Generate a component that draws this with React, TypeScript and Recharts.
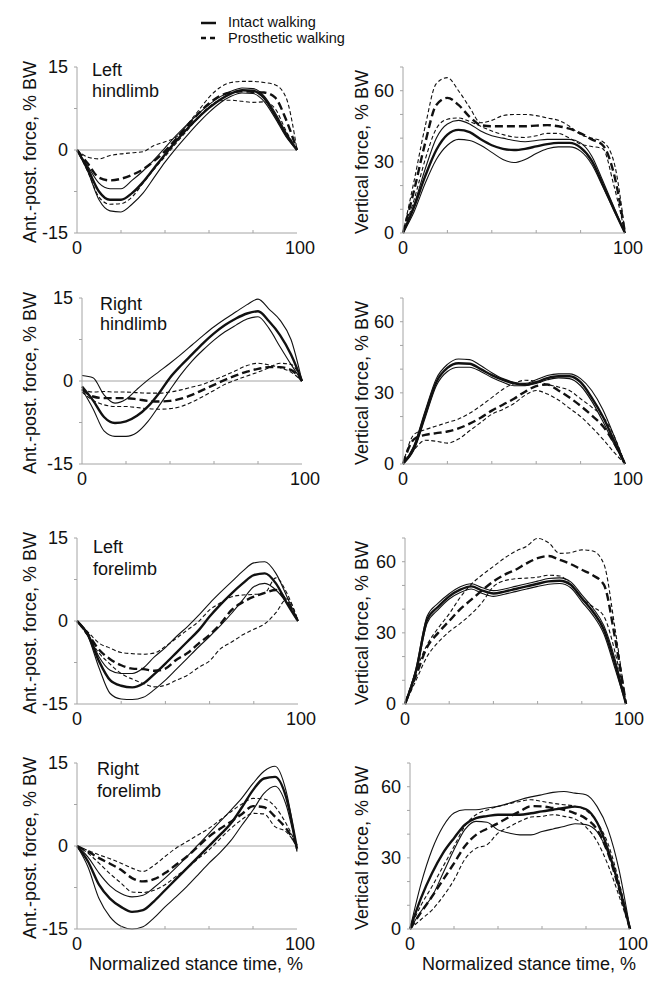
import React from "react";
import { LineChart, Line, XAxis, YAxis, ReferenceLine } from "recharts";

// Normalized stance time, %
const STANCE = [0, 5, 10, 15, 20, 25, 30, 35, 40, 45, 50, 55, 60, 65, 70, 75, 80, 85, 90, 95, 100];

// Left hindlimb, anterior-posterior force (% BW)
const LH_AP_INT = [0, -3.5, -7.5, -9, -9, -7.8, -5.8, -3.3, -0.8, 1.6, 3.8, 5.8, 7.6, 9.1, 10.2, 10.8, 10.7, 9.4, 6.3, 2.8, 0];
const LH_AP_INT_HI = [0, -3, -6, -7, -7, -5.5, -3.8, -1.8, 0.4, 2.6, 4.6, 6.5, 8.2, 9.6, 10.6, 11.2, 11.1, 9.8, 6.8, 3.2, 0];
const LH_AP_INT_LO = [0, -4, -9, -11, -11.2, -9.8, -7.8, -5, -2.2, 0.3, 2.6, 4.8, 6.8, 8.5, 9.7, 10.3, 10.2, 8.8, 5.8, 2.4, 0];
const LH_AP_PRO = [0, -2.5, -5, -5.5, -5.2, -4.5, -3.5, -2, -0.2, 2, 4.3, 6.5, 8.4, 9.8, 10.4, 10.6, 10.5, 10.4, 9.5, 5.5, 0];
const LH_AP_PRO_HI = [0, -1.3, -1.6, -1, -0.7, -0.5, -0.3, 0.8, 1.5, 2.3, 4.5, 7, 9.5, 11.3, 12.2, 12.4, 12.4, 12.2, 11.8, 9.5, 0];
const LH_AP_PRO_LO = [0, -4, -8.5, -9.8, -9.7, -8.5, -6, -3.5, -1.2, 1.2, 3.5, 5.8, 7.8, 8.9, 9, 8.8, 8.6, 8.7, 7.5, 3.5, 0];

// Left hindlimb, vertical force
const LH_V_INT = [0, 11, 24, 35, 41.5, 43.5, 42.5, 39.5, 37, 35.5, 35, 35.5, 36.5, 37.5, 38, 38, 36, 30.5, 20.5, 10, 0];
const LH_V_INT_HI = [0, 12, 27, 40, 46, 47.5, 46, 43, 41, 40, 39, 38.5, 39, 39.5, 39.5, 39.5, 38, 32.5, 22, 11, 0];
const LH_V_INT_LO = [0, 9, 21, 31, 37, 39.5, 39, 37, 34, 31, 29.7, 31, 33.5, 35.5, 36.3, 36.3, 34.5, 29, 19.5, 9.5, 0];
const LH_V_PRO = [0, 18, 38, 54, 57, 54, 49, 45.5, 45, 45, 45, 45, 45.3, 45.5, 45, 44, 42, 39.5, 37, 25, 0];
const LH_V_PRO_HI = [0, 22, 45, 63, 65.5, 60, 53, 46.5, 47.5, 49.5, 50, 50, 49.5, 48.5, 47.5, 45, 41.5, 40, 38.5, 30, 0];
const LH_V_PRO_LO = [0, 14, 31, 44, 48, 48.5, 47, 45, 43, 41.5, 40.5, 40.3, 41, 42, 42, 40, 37.5, 36.5, 35.5, 20, 0];

// Right hindlimb, anterior-posterior force
const RH_AP_INT = [-1, -3.5, -6.5, -7.6, -7.3, -6.3, -4.6, -2.2, 0.6, 2.8, 4.8, 6.8, 8.6, 10.1, 11.3, 12.2, 12.6, 10.8, 8.3, 4.8, 0];
const RH_AP_INT_HI = [1, 0.6, -2.5, -4, -3.3, -1.5, 0.2, 1.7, 3.2, 4.8, 6.5, 8.2, 9.8, 11.2, 12.5, 13.8, 14.8, 13, 11, 7.5, 0];
const RH_AP_INT_LO = [-1.5, -5, -9, -10, -10, -9.3, -7.3, -4.5, -1.6, 1.2, 3.6, 5.6, 7.4, 8.9, 10.1, 11.2, 11.6, 9.5, 6.2, 3, 0];
const RH_AP_PRO = [-1.5, -2.8, -3.1, -3.1, -3.1, -3.3, -3.6, -3.7, -3.6, -3.2, -2.5, -1.6, -0.7, 0.2, 1, 1.7, 2.2, 2.5, 2.5, 2, 0];
const RH_AP_PRO_HI = [-1.5, -2, -1.9, -2, -2, -2.1, -2.2, -2.2, -2, -1.6, -1.1, -0.6, 0.2, 1, 1.9, 2.8, 3.2, 2.9, 2.4, 1.6, 0];
const RH_AP_PRO_LO = [-2, -3.5, -4.3, -4.6, -4.6, -4.8, -5, -5.1, -5, -4.6, -3.8, -2.8, -1.7, -0.6, 0.2, 0.9, 1.6, 2.4, 3.2, 3, 0];

// Right hindlimb, vertical force
const RH_V_INT = [0, 7, 21, 34.5, 40.5, 42.5, 42.3, 40, 37.5, 35.5, 34, 33.4, 34.5, 36.2, 37, 37, 34.5, 28, 20, 10, 0];
const RH_V_INT_HI = [0, 8, 22.5, 36, 42, 44.3, 44, 41.5, 38.5, 36, 34.5, 34, 35.5, 37.3, 38, 38, 36, 31, 23, 12, 0];
const RH_V_INT_LO = [0, 6, 19.5, 33, 39, 40.8, 40.8, 39, 36.5, 34.5, 33, 33, 34, 35.5, 36.3, 36, 33, 26.5, 18, 8.5, 0];
const RH_V_PRO = [0, 10.5, 12.3, 13, 13.7, 15, 17, 19.5, 22.5, 25, 27.5, 30.5, 32.8, 33.5, 31, 28, 24.5, 20.5, 16, 9, 0];
const RH_V_PRO_HI = [0, 12.5, 14.5, 16, 17.5, 19, 21.4, 24.5, 28, 31.5, 34, 35.3, 35, 33.5, 32.5, 31, 27.5, 24, 20, 12, 0];
const RH_V_PRO_LO = [0, 6, 10, 9.6, 8.8, 10.5, 14, 17.5, 21, 23, 25.5, 29, 31, 29.5, 27, 23.5, 20, 15.5, 10.5, 5, 0];

// Left forelimb, anterior-posterior force
const LF_AP_INT = [0, -2.5, -7.3, -10.7, -11.7, -12, -11.3, -9.6, -7.7, -5.7, -3.7, -1.7, 0.8, 3, 5, 6.8, 8.3, 8.6, 6.8, 3.2, 0];
const LF_AP_INT_HI = [0, -2.3, -6.5, -8.9, -9.5, -9.5, -8.5, -6.5, -4.8, -2.8, -1, 1, 3.2, 5.2, 7.1, 9, 10.5, 10.7, 8.6, 4.4, 0];
const LF_AP_INT_LO = [0, -2.8, -8.5, -13.1, -14.1, -14.2, -13.8, -12.4, -10.7, -8.7, -6.7, -4.7, -2.8, -0.8, 1.4, 3.8, 6.2, 6.8, 5.6, 3.2, 0];
const LF_AP_PRO = [0, -2.4, -5.2, -6.9, -8, -8.6, -8.7, -9, -8.6, -7, -5.8, -4.1, -2.5, -0.5, 2, 3.4, 4.4, 5.1, 5.6, 3.5, 0];
const LF_AP_PRO_HI = [0, -2, -4, -4.9, -5.7, -5.9, -6, -5.8, -4.6, -3.1, -1.6, -0.1, 2, 3.3, 4.4, 4.7, 4.8, 5.1, 7.8, 5, 0];
const LF_AP_PRO_LO = [0, -2.8, -5.8, -7.8, -9.5, -10.5, -11.3, -11.9, -11.6, -10.7, -9.8, -8.4, -7.2, -5, -3.8, -2.5, -1.5, -0.5, 1.5, 4, 0];

// Left forelimb, vertical force
const LF_V_INT = [0, 14, 35.5, 41, 45.4, 48.2, 49.6, 47.8, 46.6, 47.4, 48.5, 49.6, 50.7, 51.7, 52, 50.3, 44.6, 39, 31.3, 17, 0];
const LF_V_INT_HI = [0, 15, 37, 42.5, 46.5, 49.4, 50.7, 49, 47.8, 48.5, 49.6, 50.7, 51.8, 52.9, 53.2, 51.5, 46, 40.5, 33, 19, 0];
const LF_V_INT_LO = [0, 13, 34, 39.8, 44.3, 47, 48.5, 46.6, 45.4, 46.3, 47.4, 48.5, 49.6, 50.5, 50.8, 49, 43.2, 37.5, 29.5, 15, 0];
const LF_V_PRO = [0, 12, 24, 30, 35, 40, 44, 48, 51.7, 54.5, 56.6, 59.3, 61.5, 62.4, 60.8, 59, 56.6, 54.3, 50.3, 28, 0];
const LF_V_PRO_HI = [0, 14, 25, 32, 38, 45, 50.5, 54.5, 58, 61.5, 64.4, 66.5, 69.8, 68, 63.5, 63.8, 65, 64.5, 59, 32, 0];
const LF_V_PRO_LO = [0, 10, 20, 26, 30.5, 34, 38, 43, 49.5, 52, 52.8, 53.1, 53.5, 54.3, 54, 50.3, 44.6, 41, 37, 22, 0];

// Right forelimb, anterior-posterior force
const RF_AP_INT = [0, -2.8, -7, -9.5, -11, -11.9, -11.6, -10, -8, -6, -4, -2, 0, 2, 4.1, 7, 10.1, 12.2, 12.5, 8.9, -0.5];
const RF_AP_INT_HI = [0, -2, -4.9, -7.2, -8.6, -9.2, -8.9, -7.5, -5.8, -3.9, -1.9, 0.2, 2.3, 4.4, 6.5, 8.7, 11.3, 13.5, 14.4, 10, -0.8];
const RF_AP_INT_LO = [0, -3.8, -9.5, -12.8, -14.5, -15, -14.6, -13, -11, -9.2, -7.3, -5.2, -3.1, -1.2, 1, 3.8, 6.5, 9.5, 10.8, 7.5, -1];
const RF_AP_PRO = [0, -1, -2.2, -3.2, -4.3, -5.8, -6.4, -6, -4.9, -3.4, -1.9, -0.1, 1.7, 3.1, 4.4, 5.8, 7.2, 7, 5.3, 3.2, 0];
const RF_AP_PRO_HI = [0, -0.8, -1.6, -2.3, -3.1, -4, -4.6, -3.5, -1.9, -0.4, 0.8, 2, 3.2, 4.7, 6.2, 7.6, 8.6, 8.5, 7.1, 4.1, 0];
const RF_AP_PRO_LO = [0, -1.3, -3.1, -5, -6.7, -8.3, -8.4, -8, -7, -5.5, -4, -2.3, -0.7, 1.3, 3.2, 4.8, 5.9, 5.8, 3.5, 2.6, 0];

// Right forelimb, vertical force
const RF_V_INT = [0, 13, 23.5, 32, 38.3, 44, 46.8, 47.6, 48.2, 48.2, 48.2, 48.8, 49.6, 50.3, 51, 51.6, 50.5, 45, 33.5, 18, 0];
const RF_V_INT_HI = [0, 19, 33.4, 43.2, 48.9, 50.3, 50.3, 51, 51.7, 53, 54.5, 55.7, 56.6, 57.6, 58, 57.3, 56.6, 51.7, 42, 25, 0];
const RF_V_INT_LO = [0, 7.5, 13.7, 23.5, 33.4, 42, 45.4, 45, 41.8, 40.5, 39.7, 39.7, 41.1, 42.2, 43.2, 44.4, 44, 41, 32, 18, 0];
const RF_V_PRO = [0, 7, 13.7, 20.7, 27.7, 35, 39.7, 42.3, 44.6, 47.2, 49.6, 51.8, 51.7, 51, 50.3, 48.8, 46.5, 42, 32, 17, 0];
const RF_V_PRO_HI = [0, 10, 17.9, 26.3, 34.8, 43.5, 48.2, 50.2, 51.7, 52.8, 53.8, 54.5, 53.8, 53, 52.4, 51.8, 50, 45, 36, 20, 0];
const RF_V_PRO_LO = [0, 4, 8, 13.7, 20.7, 29.5, 34, 35.5, 40.4, 43, 45.4, 47.2, 47.5, 48.2, 47.5, 46.4, 43, 37, 27, 14, 0];

const X_TICKS = [0, 20, 40, 60, 80, 100];
const AP_TICKS = [-15, -7.5, 0, 7.5, 15];
const AP_LABELS = [-15, 0, 15];
const V_TICKS = [0, 10, 20, 30, 40, 50, 60, 70];
const V_LABELS = [0, 30, 60];

const AXIS = "#a4a4a4";
const INK = "#111";
const FONT = "'Liberation Sans', Arial, Helvetica, sans-serif";
const PLOT_H = 166;
const Y_AXIS_W = 77;
const MARGIN = { top: 10, right: 24, bottom: 0, left: 0 };

const AP = { domain: [-15, 15], ticks: AP_TICKS, labels: AP_LABELS, title: "Ant.-post. force, % BW", titleX: 30 };
const VERT = { domain: [0, 70], ticks: V_TICKS, labels: V_LABELS, title: "Vertical force, % BW", titleX: 362 };

interface Panel {
    kind: "ap" | "vert";
    left: number;    // page x of plot area
    top: number;     // page y of plot area
    width: number;
    name?: [string, string];
    nameAt?: [number, number, number]; // dx, baseline 1, baseline 2
    series: number[][];
    xTitle?: boolean;
}

const PANELS: Panel[] = [
    { kind: "ap", left: 77, top: 67, width: 220, name: ["Left", "hindlimb"], nameAt: [15, 9, 30],
      series: [LH_AP_INT, LH_AP_INT_HI, LH_AP_INT_LO, LH_AP_PRO, LH_AP_PRO_HI, LH_AP_PRO_LO] },
    { kind: "vert", left: 403, top: 67, width: 222,
      series: [LH_V_INT, LH_V_INT_HI, LH_V_INT_LO, LH_V_PRO, LH_V_PRO_HI, LH_V_PRO_LO] },
    { kind: "ap", left: 82, top: 298, width: 220, name: ["Right", "hindlimb"], nameAt: [18, 12, 32],
      series: [RH_AP_INT, RH_AP_INT_HI, RH_AP_INT_LO, RH_AP_PRO, RH_AP_PRO_HI, RH_AP_PRO_LO] },
    { kind: "vert", left: 403, top: 298, width: 222,
      series: [RH_V_INT, RH_V_INT_HI, RH_V_INT_LO, RH_V_PRO, RH_V_PRO_HI, RH_V_PRO_LO] },
    { kind: "ap", left: 77, top: 538, width: 221, name: ["Left", "forelimb"], nameAt: [16, 15, 37],
      series: [LF_AP_INT, LF_AP_INT_HI, LF_AP_INT_LO, LF_AP_PRO, LF_AP_PRO_HI, LF_AP_PRO_LO] },
    { kind: "vert", left: 405, top: 538, width: 221,
      series: [LF_V_INT, LF_V_INT_HI, LF_V_INT_LO, LF_V_PRO, LF_V_PRO_HI, LF_V_PRO_LO] },
    { kind: "ap", left: 77, top: 763, width: 220, name: ["Right", "forelimb"], nameAt: [20, 12, 34], xTitle: true,
      series: [RF_AP_INT, RF_AP_INT_HI, RF_AP_INT_LO, RF_AP_PRO, RF_AP_PRO_HI, RF_AP_PRO_LO] },
    { kind: "vert", left: 410, top: 763, width: 220, xTitle: true,
      series: [RF_V_INT, RF_V_INT_HI, RF_V_INT_LO, RF_V_PRO, RF_V_PRO_HI, RF_V_PRO_LO] },
];

// thin SD lines first, means on top
const LINES = [
    { key: "intHi", width: 1.1 },
    { key: "intLo", width: 1.1 },
    { key: "proHi", width: 1.1, dash: "4 2.5" },
    { key: "proLo", width: 1.1, dash: "4 2.5" },
    { key: "pro", width: 2.4, dash: "8 4" },
    { key: "int", width: 2.4 },
];

function xTick(props: any) {
    const { x, y, payload } = props;
    const v = payload.value;
    return (
        <g>
            {v > 0 && v < 100 && <line x1={x} x2={x} y1={y} y2={y - 3} stroke={AXIS} />}
            {(v === 0 || v === 100) && (
                <text x={v === 100 ? x + 3 : x} y={y + 21} textAnchor="middle" fontSize={18} fill={INK} fontFamily={FONT}>
                    {v}
                </text>
            )}
        </g>
    );
}

const yTick = (labels: number[]) => (props: any) => {
    const { x, y, payload } = props;
    if (!labels.includes(payload.value)) return <g />;
    return (
        <text x={x - 6} y={y} dy="0.36em" textAnchor="end" fontSize={18} fill={INK} fontFamily={FONT}>
            {payload.value}
        </text>
    );
};

// y title plus the limb name inside the plot
function PanelText({ title, tx, midY, name, nameAt }: any) {
    return (
        <g fontFamily={FONT} fill={INK}>
            <text x={tx} y={midY} transform={`rotate(-90, ${tx}, ${midY})`} textAnchor="middle"
                  dominantBaseline="central" fontSize={18}>
                {title}
            </text>
            {name && (
                <>
                    <text x={Y_AXIS_W + nameAt[0]} y={MARGIN.top + nameAt[1]} fontSize={18}>{name[0]}</text>
                    <text x={Y_AXIS_W + nameAt[0]} y={MARGIN.top + nameAt[2]} fontSize={18}>{name[1]}</text>
                </>
            )}
        </g>
    );
}

function XTitle({ cx }: any) {
    return (
        <text x={cx} y={MARGIN.top + PLOT_H + 41} textAnchor="middle" fontSize={18} fill={INK} fontFamily={FONT}>
            Normalized stance time, %
        </text>
    );
}

function ForcePanel({ p }: { p: Panel }) {
    const axis = p.kind === "ap" ? AP : VERT;
    const data = STANCE.map((x, i) => ({
        x,
        int: p.series[0][i],
        intHi: p.series[1][i],
        intLo: p.series[2][i],
        pro: p.series[3][i],
        proHi: p.series[4][i],
        proLo: p.series[5][i],
    }));
    const chartLeft = p.left - Y_AXIS_W;
    const w = Y_AXIS_W + p.width + MARGIN.right;
    const h = MARGIN.top + PLOT_H + 50;
    const tx = axis.titleX - chartLeft;
    const midY = MARGIN.top + PLOT_H / 2 + 2;

    return (
        <div style={{ position: "absolute", left: chartLeft, top: p.top - MARGIN.top }}>
            <LineChart width={w} height={h} data={data} margin={MARGIN}>
                <XAxis
                    type="number"
                    dataKey="x"
                    domain={[0, 100]}
                    ticks={X_TICKS}
                    interval={0}
                    tickLine={false}
                    tickSize={0}
                    tickMargin={0}
                    axisLine={{ stroke: AXIS }}
                    height={50}
                    tick={xTick}
                    label={p.xTitle ? <XTitle cx={Y_AXIS_W + p.width / 2 + 9} /> : undefined}
                />
                <YAxis
                    type="number"
                    domain={axis.domain}
                    ticks={axis.ticks}
                    interval={0}
                    width={Y_AXIS_W}
                    tickSize={3}
                    tickMargin={0}
                    tickLine={{ stroke: AXIS }}
                    axisLine={{ stroke: AXIS }}
                    tick={yTick(axis.labels)}
                    label={<PanelText title={axis.title} tx={tx} midY={midY} name={p.name} nameAt={p.nameAt} />}
                />
                {p.kind === "ap" && <ReferenceLine y={0} stroke={AXIS} strokeWidth={1} />}
                {LINES.map((l) => (
                    <Line
                        key={l.key}
                        type="monotone"
                        dataKey={l.key}
                        stroke={INK}
                        strokeWidth={l.width}
                        strokeDasharray={l.dash}
                        dot={false}
                        activeDot={false}
                        isAnimationActive={false}
                    />
                ))}
            </LineChart>
        </div>
    );
}

function LegendBox() {
    return (
        <svg width={669} height={50} style={{ position: "absolute", left: 0, top: 0 }}>
            <g fontFamily={FONT} fill={INK} fontSize={14.5}>
                <line x1={201} x2={216} y1={23} y2={23} stroke={INK} strokeWidth={2.5} />
                <text x={228} y={27}>Intact walking</text>
                <line x1={201} x2={218} y1={38} y2={38} stroke={INK} strokeWidth={2.5} strokeDasharray="5 4" />
                <text x={228} y={43}>Prosthetic walking</text>
            </g>
        </svg>
    );
}

export default function App() {
    return (
        <div style={{ position: "absolute", left: 0, top: 0, width: 669, height: 995, background: "#fff", fontFamily: FONT }}>
            <LegendBox />
            {PANELS.map((p, i) => (
                <ForcePanel key={i} p={p} />
            ))}
        </div>
    );
}
